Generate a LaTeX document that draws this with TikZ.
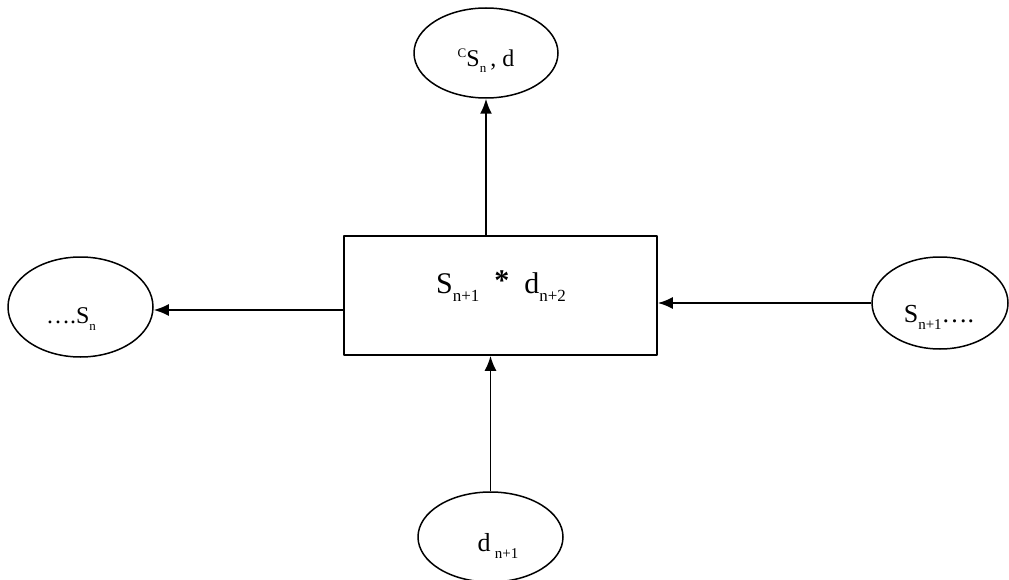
\documentclass[tikz,border=0pt]{standalone}
\usepackage{fontspec}
\setmainfont{Liberation Serif}
\usetikzlibrary{shapes.geometric,arrows.meta}
\newcommand{\lo}[2][13]{\raisebox{-0.6ex}{\fontsize{#1}{#1}\selectfont #2}}
\newcommand{\hi}[2][13]{\raisebox{0.75ex}{\fontsize{#1}{#1}\selectfont #2}}
\tikzset{
  state/.style={draw,ellipse,line width=1.5pt,inner sep=0pt,font=\fontsize{24}{26}\selectfont},
  blockbox/.style={draw,rectangle,line width=1.7pt,inner sep=0pt,minimum width=313,minimum height=119},
  flow/.style={->,line width=1.8pt},
}
\begin{document}
\begin{tikzpicture}[x=1pt,y=-1pt,>={Latex[length=15pt,width=12pt]},line join=round]
			\useasboundingbox (0,0) rectangle (1009,580);
			\node[blockbox] (blk) at (500.5,295.5) {};
			\node[font=\fontsize{30}{32}\selectfont] (blktxt) at (501,286) {S\lo[17]{n+1}\ \ \raisebox{0.2ex}{\textbf{*}}\ \ d\lo[17]{n+2}};
			\node[state,minimum width=144,minimum height=90] (top) at (486,53) {};
			\node (toptxt) at (486,61) {\fontsize{24}{26}\selectfont\hi{C}S\lo{n}\,, d};
			\node[state,minimum width=145,minimum height=100] (left) at (80.5,307) {};
			\node (lefttxt) at (71,319) {\fontsize{24}{26}\selectfont\dots.S\lo{n}};
			\node[state,minimum width=136,minimum height=92] (right) at (940,303) {};
			\node (righttxt) at (939,317) {\fontsize{26}{28}\selectfont S\lo[15]{n+1}\dots.};
			\node[state,minimum width=145,minimum height=90] (bot) at (490.5,537) {};
			\node (bottxt) at (498,546) {\fontsize{26}{28}\selectfont d\,\lo[15]{n+1}};
			\draw[flow] (blk.north -| top.south) -- (top.south);
			\draw[flow] (blk.west |- 0,310) -- (left.east |- 0,310);
			\draw[flow] (right.west) -- (right.west -| blk.east);
			\draw[flow] (bot.north) -- (bot.north |- blk.south);
	\end{tikzpicture}
\end{document}
